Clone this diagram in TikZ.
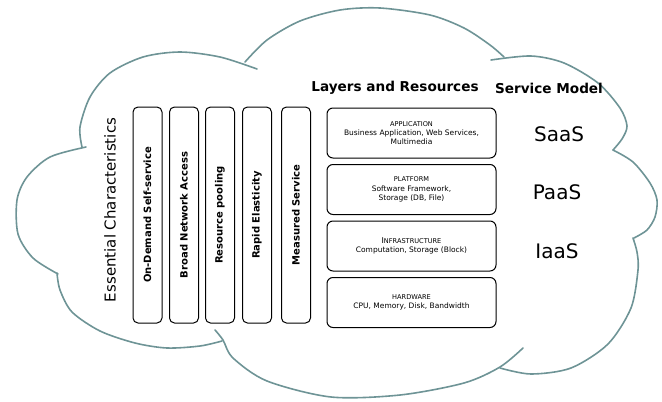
\documentclass[tikz,border=0pt]{standalone}
\usepackage{fontspec}
\setmainfont{DejaVu Sans}
\usetikzlibrary{positioning}
\definecolor{cloudteal}{HTML}{6E9496}
\newcommand{\capsword}[1]{{\fontsize{6.6}{9.3}\selectfont #1}}

\tikzset{
  cloudline/.style={draw=cloudteal, line width=1.6pt, line cap=round},
  charbox/.style={draw, rounded corners=5pt, line width=1pt, minimum width=216pt,
    minimum height=29pt, inner sep=0pt, rotate=90, font=\bfseries\fontsize{10}{12}\selectfont},
  layerbox/.style={draw, rounded corners=6pt, line width=1pt, minimum width=169pt,
    minimum height=50pt, inner sep=0pt, align=center, font=\fontsize{7.5}{9.3}\selectfont},
  heading/.style={font=\bfseries\fontsize{13.6}{15}\selectfont},
  model/.style={font=\fontsize{20}{22}\selectfont},
}

\begin{document}
\begin{tikzpicture}[x=1pt, y=-1pt]
  \useasboundingbox (0,0) rectangle (662,402);
  % Cloud outline, one lobe after the other
  \draw[cloudline] plot[smooth] coordinates {(82,147) (80,127) (90,97) (110,73) (143,57) (180,52) (220,57) (257,69)};
  \draw[cloudline] plot[smooth] coordinates {(245,62) (267,40) (300,21) (340,10) (380,8) (430,15) (464,28) (490,45) (504,57)};
  \draw[cloudline] plot[smooth] coordinates {(491,60) (531,56) (564,63) (598,83) (620,108) (627,126) (622,139) (613,150)};
  \draw[cloudline] plot[smooth] coordinates {(613,150) (633,162) (650,183) (657,200) (655,217) (647,230) (634,238)};
  \draw[cloudline] plot[smooth] coordinates {(633,238) (637,252) (638,270) (631,308) (608,344) (571,368) (531,374) (500,368)};
  \draw[cloudline] plot[smooth] coordinates {(523,348) (500,367) (464,383) (400,395) (331,397) (267,381) (233,358) (223,340) (215,330)};
  \draw[cloudline] plot[smooth] coordinates {(57,273) (60,290) (72,312) (100,331) (135,343) (167,348) (200,346) (222,341)};
  \draw[cloudline] plot[smooth] coordinates {(86,147) (50,157) (27,177) (17,200) (18,234) (33,258) (58,274)};

  % Essential characteristics
  \node[rotate=90, font=\fontsize{15}{17}\selectfont] (ess) at (110,210) {Essential Characteristics};
  \foreach \n/\x/\t in {ods/147.5/On-Demand Self-service, bna/184/Broad Network Access,
      rpool/220/Resource pooling, rel/257/Rapid Elasticity, msrv/296/Measured Service}
    \node[charbox] (\n) at (\x,215) {\t};

  % Layers and resources
  \node[heading] (layers) at (395,88) {Layers and Resources};
  \node[layerbox] (app) at (411.5,133) {\capsword{APPLICATION}\\Business Application, Web Services,\\Multimedia};
  \node[layerbox, below=5.5pt of app] (plat) {\capsword{PLATFORM}\\Software Framework,\\Storage (DB, File)};
  \node[layerbox, below=5.5pt of plat] (infra) {{\fontsize{8}{9.3}\selectfont I}\capsword{NFRASTRUCTURE}\\Computation, Storage (Block)};
  \node[layerbox, below=5.5pt of infra] (hw) {\capsword{HARDWARE}\\CPU, Memory, Disk, Bandwidth};

  % Service model
  \node[heading] (service) at (549,88) {Service Model};
  \node[model] (saas) at (559,134) {SaaS};
  \node[model] (paas) at (557,192) {PaaS};
  \node[model] (iaas) at (557,251) {IaaS};
\end{tikzpicture}
\end{document}
